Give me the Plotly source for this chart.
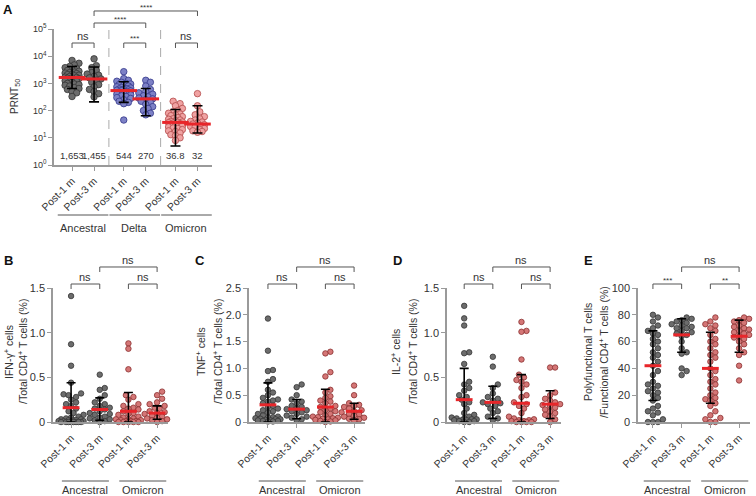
import numpy as np
import plotly.graph_objects as go

W, H = 756, 496
FONT = "Liberation Sans, Arial, sans-serif"

# ---------------- data ----------------
timepoints = ["Post-1 m", "Post-3 m"]
variants_A = ["Ancestral", "Delta", "Omicron"]
variants_T = ["Ancestral", "Omicron"]

# Panel A: PRNT50
prnt_anc_1m = [7000, 5500, 4800, 4200, 3800, 3500, 3200, 3000, 2800, 2600, 2500, 2400, 2300, 2200,
               2100, 2000, 1900, 1800, 1700, 1650, 1600, 1550, 1500, 1400, 1300, 1250, 1200, 1100,
               1000, 950, 900, 850, 800, 700, 650, 600, 500, 450, 330]
prnt_anc_3m = [8000, 4500, 3800, 3000, 2500, 2200, 2000, 1800, 1600, 1455, 1300, 1100, 900, 750,
               600, 500, 420, 320]
prnt_del_1m = [2700, 1500, 1300, 1200, 1100, 1000, 950, 900, 850, 800, 750, 700, 680, 650, 620,
               600, 580, 560, 544, 530, 500, 480, 450, 430, 400, 380, 350, 330, 300, 280, 250,
               220, 200, 180, 45]
prnt_del_3m = [1300, 1100, 800, 600, 500, 450, 400, 350, 320, 290, 270, 250, 220, 200, 170, 140,
               120, 100, 80, 70]
prnt_omi_1m = [220, 180, 150, 120, 100, 90, 80, 75, 70, 65, 60, 55, 50, 48, 45, 42, 40, 38, 37, 36,
               35, 33, 30, 28, 27, 25, 23, 22, 20, 18, 17, 15, 13, 12, 10, 8]
prnt_omi_3m = [420, 150, 90, 70, 60, 50, 45, 40, 38, 35, 32, 30, 28, 26, 25, 22, 20, 18, 17, 16]
prnt_centers = [1653, 1455, 544, 270, 36.8, 32]
prnt_center_labels = ["1,653", "1,455", "544", "270", "36.8", "32"]
prnt_err_low = [650, 210, 200, 65, 5, 15]
prnt_err_high = [4200, 4000, 1150, 650, 110, 150]
prnt_ticks = [1, 10, 100, 1000, 10000, 100000]
prnt_ticklabels = ["10<sup>0</sup>", "10<sup>1</sup>", "10<sup>2</sup>", "10<sup>3</sup>",
                   "10<sup>4</sup>", "10<sup>5</sup>"]

# Panel B: IFN-gamma
ifng_anc_1m = [1.41, 0.87, 0.63, 0.44, 0.32, 0.31, 0.30, 0.28, 0.25, 0.22, 0.20, 0.18, 0.15, 0.12,
               0.10, 0.08, 0.06, 0.05, 0.04, 0.03, 0.03, 0.02, 0.02, 0.02, 0.01, 0.01, 0.01, 0.01,
               0.0, 0.0, 0.0, 0.0, 0.0, 0.0, 0.0, 0.0]
ifng_anc_3m = [0.53, 0.38, 0.36, 0.30, 0.26, 0.22, 0.20, 0.18, 0.16, 0.15, 0.14, 0.12, 0.10, 0.09,
               0.08, 0.06, 0.05, 0.04, 0.03, 0.02, 0.01, 0.0]
ifng_omi_1m = [0.88, 0.82, 0.59, 0.30, 0.28, 0.25, 0.20, 0.18, 0.16, 0.15, 0.14, 0.12, 0.10, 0.09,
               0.08, 0.06, 0.05, 0.04, 0.03, 0.03, 0.02, 0.02, 0.01, 0.01, 0.01, 0.0, 0.0, 0.0,
               0.0, 0.0]
ifng_omi_3m = [0.34, 0.30, 0.26, 0.22, 0.20, 0.18, 0.16, 0.15, 0.13, 0.12, 0.11, 0.10, 0.09, 0.08,
               0.07, 0.06, 0.05, 0.04, 0.03, 0.02, 0.01, 0.0]
ifng_centers = [0.16, 0.14, 0.12, 0.10]
ifng_err_low = [0.0, 0.02, 0.0, 0.03]
ifng_err_high = [0.44, 0.27, 0.33, 0.18]
ifng_ticks = [0, 0.5, 1.0, 1.5]
ifng_ticklabels = ["0", "0.5", "1.0", "1.5"]

# Panel C: TNF
tnf_anc_1m = [1.93, 1.33, 0.97, 0.95, 0.80, 0.75, 0.60, 0.55, 0.50, 0.45, 0.42, 0.40, 0.38, 0.35,
              0.30, 0.28, 0.25, 0.22, 0.20, 0.18, 0.15, 0.12, 0.10, 0.09, 0.08, 0.07, 0.06, 0.05,
              0.05, 0.04, 0.03, 0.03, 0.02, 0.02, 0.01, 0.01]
tnf_anc_3m = [0.70, 0.65, 0.50, 0.42, 0.38, 0.35, 0.30, 0.28, 0.25, 0.24, 0.22, 0.20, 0.18, 0.15,
              0.12, 0.10, 0.08, 0.05, 0.03]
tnf_omi_1m = [1.31, 1.28, 0.93, 0.85, 0.60, 0.55, 0.48, 0.45, 0.40, 0.38, 0.35, 0.30, 0.28, 0.25,
              0.22, 0.20, 0.18, 0.15, 0.12, 0.10, 0.09, 0.08, 0.07, 0.06, 0.05, 0.04, 0.03, 0.02,
              0.01, 0.0]
tnf_omi_3m = [0.68, 0.50, 0.35, 0.32, 0.30, 0.28, 0.25, 0.22, 0.20, 0.18, 0.17, 0.15, 0.14, 0.12,
              0.10, 0.08, 0.06, 0.05, 0.03]
tnf_centers = [0.32, 0.24, 0.28, 0.20]
tnf_err_low = [0.0, 0.06, 0.0, 0.05]
tnf_err_high = [0.73, 0.42, 0.61, 0.35]
tnf_ticks = [0, 0.5, 1.0, 1.5, 2.0, 2.5]
tnf_ticklabels = ["0", "0.5", "1.0", "1.5", "2.0", "2.5"]

# Panel D: IL-2
il2_anc_1m = [1.30, 1.16, 1.08, 0.78, 0.77, 0.65, 0.45, 0.42, 0.38, 0.35, 0.30, 0.28, 0.25, 0.22,
              0.20, 0.15, 0.10, 0.08, 0.06, 0.05, 0.04, 0.04, 0.03, 0.03, 0.02, 0.02, 0.02, 0.01,
              0.01, 0.0, 0.0]
il2_anc_3m = [0.73, 0.62, 0.42, 0.38, 0.32, 0.28, 0.26, 0.24, 0.22, 0.21, 0.20, 0.18, 0.15, 0.12,
              0.10, 0.06, 0.04, 0.02]
il2_omi_1m = [1.12, 1.02, 1.01, 0.70, 0.53, 0.50, 0.47, 0.45, 0.42, 0.38, 0.30, 0.28, 0.22, 0.20,
              0.18, 0.15, 0.10, 0.06, 0.04, 0.03, 0.02, 0.02, 0.01, 0.01, 0.0, 0.0, 0.0, 0.0]
il2_omi_3m = [0.61, 0.61, 0.33, 0.30, 0.26, 0.24, 0.22, 0.20, 0.19, 0.18, 0.16, 0.14, 0.12, 0.10,
              0.08, 0.06, 0.03, 0.0]
il2_centers = [0.25, 0.22, 0.21, 0.20]
il2_err_low = [0.0, 0.04, 0.0, 0.04]
il2_err_high = [0.60, 0.40, 0.53, 0.35]
il2_ticks = [0, 0.5, 1.0, 1.5]
il2_ticklabels = ["0", "0.5", "1.0", "1.5"]

# Panel E: polyfunctional
poly_anc_1m = [80, 78, 75, 72, 70, 68, 66, 65, 62, 60, 58, 55, 52, 50, 48, 45, 42, 38, 35, 30, 28,
               27, 25, 23, 22, 20, 18, 16, 12, 10, 8, 7, 5, 2, 0, 0, 0]
poly_anc_3m = [78, 77, 76, 75, 74, 73, 72, 71, 70, 70, 68, 67, 66, 65, 64, 60, 55, 52, 51, 40, 38, 35]
poly_omi_1m = [78, 75, 73, 72, 70, 68, 65, 62, 60, 58, 55, 52, 50, 48, 45, 40, 38, 35, 32, 30, 28,
               25, 22, 20, 18, 17, 16, 14, 12, 8, 5, 3, 2, 0, 0]
poly_omi_3m = [78, 77, 76, 75, 74, 72, 71, 70, 69, 68, 67, 66, 65, 64, 63, 62, 60, 58, 55, 52, 50,
               42, 31]
poly_centers = [42, 65, 40, 64]
poly_err_low = [16, 52, 14, 52]
poly_err_high = [68, 77, 67, 76]
poly_ticks = [0, 20, 40, 60, 80, 100]
poly_ticklabels = ["0", "20", "40", "60", "80", "100"]

# ---------------- styles ----------------
ANC = ("#6c6c6c", "#353535")
DEL = ("#7d81c6", "#34378a")
OMI_A = ("#f0a2a2", "#b24a4a")
OMI = ("#d47676", "#8a3030")
RED = "#e8262a"
AX = "#9a9a9a"
TXT = "#333333"


def px(x):
    return x / W


def py(y):
    return 1 - y / H


def swarm(vals, to_pix, diam, maxhalf):
    ys = np.array([to_pix(v) for v in vals], dtype=float)
    step = diam / 2.0
    cands = [0.0]
    k = 1
    while k * step <= maxhalf:
        cands += [k * step, -k * step]
        k += 1
    off = np.zeros(len(ys))
    placed = []
    for i in np.argsort(ys):
        y = ys[i]
        best_c, best_d = 0.0, -1.0
        for c in cands:
            d = min((np.hypot(c - a, y - b) for a, b in placed), default=np.inf)
            if d >= diam:
                best_c = c
                break
            if d > best_d:
                best_d, best_c = d, c
        off[i] = best_c
        placed.append((best_c, y))
    return off


fig = go.Figure()
shapes = []
annotations = []


def note(xref, x, y, text, size, color=TXT, angle=0):
    annotations.append(dict(xref=xref, yref="paper", x=x, y=y, text=text, showarrow=False,
                            xanchor="center", yanchor="middle", textangle=angle,
                            font=dict(size=size, color=color, family=FONT)))


panels = [
    dict(key="", xdom=(54, 212), ydom=(29, 165), xr=(-0.82, 6.36), yr=(0, 5), log=True,
         pos=[0, 1, 2.35, 3.35, 4.7, 5.7],
         groups=[prnt_anc_1m, prnt_anc_3m, prnt_del_1m, prnt_del_3m, prnt_omi_1m, prnt_omi_3m],
         colors=[ANC, ANC, DEL, DEL, OMI_A, OMI_A],
         centers=prnt_centers, lo=prnt_err_low, hi=prnt_err_high,
         ticks=prnt_ticks, ticklabels=prnt_ticklabels, tsize=9,
         msize=6.5, diam=4.6, maxhalf=9, redw=19, capw=5),
    dict(key="2", xdom=(53, 168), ydom=(288, 422), xr=(-0.63, 3.38), yr=(0, 1.5), log=False,
         pos=[0, 1, 2, 3], groups=[ifng_anc_1m, ifng_anc_3m, ifng_omi_1m, ifng_omi_3m],
         colors=[ANC, ANC, OMI, OMI], centers=ifng_centers, lo=ifng_err_low, hi=ifng_err_high,
         ticks=ifng_ticks, ticklabels=ifng_ticklabels, tsize=11,
         msize=5.5, diam=5.0, maxhalf=13, redw=12, capw=4.5),
    dict(key="3", xdom=(249, 365), ydom=(288, 422), xr=(-0.66, 3.38), yr=(0, 2.5), log=False,
         pos=[0, 1, 2, 3], groups=[tnf_anc_1m, tnf_anc_3m, tnf_omi_1m, tnf_omi_3m],
         colors=[ANC, ANC, OMI, OMI], centers=tnf_centers, lo=tnf_err_low, hi=tnf_err_high,
         ticks=tnf_ticks, ticklabels=tnf_ticklabels, tsize=11,
         msize=5.5, diam=5.0, maxhalf=13, redw=12, capw=4.5),
    dict(key="4", xdom=(447, 561), ydom=(288, 422), xr=(-0.6, 3.38), yr=(0, 1.5), log=False,
         pos=[0, 1, 2, 3], groups=[il2_anc_1m, il2_anc_3m, il2_omi_1m, il2_omi_3m],
         colors=[ANC, ANC, OMI, OMI], centers=il2_centers, lo=il2_err_low, hi=il2_err_high,
         ticks=il2_ticks, ticklabels=il2_ticklabels, tsize=11,
         msize=5.5, diam=5.0, maxhalf=13, redw=12, capw=4.5),
    dict(key="5", xdom=(638, 750), ydom=(288, 422), xr=(-0.52, 3.38), yr=(0, 100), log=False,
         pos=[0, 1, 2, 3], groups=[poly_anc_1m, poly_anc_3m, poly_omi_1m, poly_omi_3m],
         colors=[ANC, ANC, OMI, OMI], centers=poly_centers, lo=poly_err_low, hi=poly_err_high,
         ticks=poly_ticks, ticklabels=poly_ticklabels, tsize=11,
         msize=5.5, diam=5.0, maxhalf=13, redw=12, capw=4.5),
]

for p in panels:
    xa, ya = "x" + p["key"], "y" + p["key"]
    wpx = p["xdom"][1] - p["xdom"][0]
    hpx = p["ydom"][1] - p["ydom"][0]
    units_per_px = (p["xr"][1] - p["xr"][0]) / wpx
    if p["log"]:
        to_pix = lambda v, p=p, hpx=hpx: (np.log10(v) - p["yr"][0]) / (p["yr"][1] - p["yr"][0]) * hpx
    else:
        to_pix = lambda v, p=p, hpx=hpx: (v - p["yr"][0]) / (p["yr"][1] - p["yr"][0]) * hpx
    for g, vals in enumerate(p["groups"]):
        off = swarm(vals, to_pix, p["diam"], p["maxhalf"]) * units_per_px
        fill, edge = p["colors"][g]
        fig.add_trace(go.Scatter(
            x=p["pos"][g] + off, y=vals, mode="markers", xaxis=xa, yaxis=ya,
            marker=dict(size=p["msize"], color=fill, line=dict(color=edge, width=0.8)),
            hoverinfo="skip", showlegend=False, cliponaxis=False))
    for g in range(len(p["groups"])):
        c = p["centers"][g]
        fig.add_trace(go.Scatter(
            x=[p["pos"][g]], y=[c], mode="markers", xaxis=xa, yaxis=ya,
            marker=dict(size=1, color="rgba(0,0,0,0)"),
            error_y=dict(type="data", symmetric=False, array=[p["hi"][g] - c],
                         arrayminus=[c - p["lo"][g]], color="black", thickness=1.6,
                         width=p["capw"]),
            hoverinfo="skip", showlegend=False, cliponaxis=False))
    fig.add_trace(go.Scatter(
        x=p["pos"], y=p["centers"], mode="markers", xaxis=xa, yaxis=ya,
        marker=dict(symbol="line-ew", size=p["redw"], line=dict(color=RED, width=3)),
        hoverinfo="skip", showlegend=False, cliponaxis=False))

    ticktext = timepoints * (len(p["pos"]) // 2)
    fig.layout["xaxis" + p["key"]] = dict(
        domain=[px(p["xdom"][0]), px(p["xdom"][1])], range=list(p["xr"]), anchor=ya,
        tickvals=p["pos"], ticktext=ticktext, tickangle=-45, ticks="outside", ticklen=4,
        tickcolor=AX, showline=True, linecolor=AX, linewidth=1.5, showgrid=False, zeroline=False,
        tickfont=dict(size=10.5, color=TXT, family=FONT), fixedrange=True, automargin=False)
    fig.layout["yaxis" + p["key"]] = dict(
        domain=[py(p["ydom"][1]), py(p["ydom"][0])], range=list(p["yr"]), anchor=xa,
        type="log" if p["log"] else "linear",
        tickvals=p["ticks"], ticktext=p["ticklabels"],
        ticks="outside", ticklen=4, tickcolor=AX, showline=True, linecolor=AX,
        linewidth=1.5, showgrid=False, zeroline=False, automargin=False,
        tickfont=dict(size=p["tsize"], color=TXT, family=FONT))


def bracket(xref, x0, x1, ytop, label, star=False, leg=5):
    shapes.append(dict(type="path", xref=xref, yref="paper",
                       path="M %f,%f L %f,%f L %f,%f L %f,%f" % (
                           x0, py(ytop + leg), x0, py(ytop), x1, py(ytop), x1, py(ytop + leg)),
                       line=dict(color="#555555", width=1)))
    note(xref, (x0 + x1) / 2, py(ytop - (4 if star else 7)), label, 8 if star else 11)


# Panel A extras
posA = panels[0]["pos"]
bracket("x", posA[0], posA[1], 43, "ns")
bracket("x", posA[2], posA[3], 43, "***", star=True)
bracket("x", posA[4], posA[5], 43, "ns")
bracket("x", posA[1], posA[3], 23, "****", star=True)
bracket("x", posA[1], posA[5], 11, "****", star=True)
for xm in [(posA[1] + posA[2]) / 2, (posA[3] + posA[4]) / 2]:
    shapes.append(dict(type="line", xref="x", yref="paper", x0=xm, x1=xm, y0=py(165), y1=py(29),
                       line=dict(color="#aaaaaa", width=1, dash="dash")))
for g, lab in enumerate(prnt_center_labels):
    note("x", posA[g], py(155), lab, 9.5)
for v, name in enumerate(variants_A):
    a, b = posA[2 * v], posA[2 * v + 1]
    shapes.append(dict(type="line", xref="x", yref="paper", x0=a - 0.65, x1=b + 0.65,
                       y0=py(215), y1=py(215), line=dict(color="#555555", width=1)))
    note("x", (a + b) / 2, py(228), name, 11)
note("paper", px(15), py(97), "PRNT<sub>50</sub>", 10, angle=-90)

# Panels B-E extras
titles = [
    ("B", 8, 22, 8, "IFN-γ<sup>+</sup> cells", "/Total CD4<sup>+</sup> T cells (%)", "ns", "ns", "ns"),
    ("C", 200, 217, 200, "TNF<sup>+</sup> cells", "/Total CD4<sup>+</sup> T cells (%)", "ns", "ns", "ns"),
    ("D", 395, 412, 397, "IL-2<sup>+</sup> cells", "/Total CD4<sup>+</sup> T cells (%)", "ns", "ns", "ns"),
    ("E", 588, 603, 588, "Polyfunctional T cells", "/Functional CD4<sup>+</sup> T cells (%)", "***", "**", "ns"),
]
for p, (letter, tx1, tx2, lx, t1, t2, s1, s2, s3) in zip(panels[1:], titles):
    xr = "x" + p["key"]
    pos = p["pos"]
    bracket(xr, pos[0], pos[1], 284, s1, star=s1 != "ns")
    bracket(xr, pos[2], pos[3], 284, s2, star=s2 != "ns")
    bracket(xr, pos[1], pos[3], 267, s3, star=s3 != "ns")
    for v, name in enumerate(variants_T):
        a, b = pos[2 * v], pos[2 * v + 1]
        shapes.append(dict(type="line", xref=xr, yref="paper", x0=a - 0.32, x1=b + 0.32,
                           y0=py(481), y1=py(481), line=dict(color="#555555", width=1)))
        note(xr, (a + b) / 2, py(490), name, 11)
    note("paper", px(tx1), py(352), t1, 10.5, angle=-90)
    note("paper", px(tx2), py(352), t2, 10.5, angle=-90)
    note("paper", px(lx), py(260), "<b>%s</b>" % letter, 13, color="#111111")

note("paper", px(8), py(9), "<b>A</b>", 13, color="#111111")

fig.update_layout(width=W, height=H, margin=dict(l=0, r=0, t=0, b=0, autoexpand=False),
                  paper_bgcolor="white", plot_bgcolor="white",
                  shapes=shapes, annotations=annotations, showlegend=False,
                  font=dict(family=FONT, color=TXT))
fig.write_html("out.html")
